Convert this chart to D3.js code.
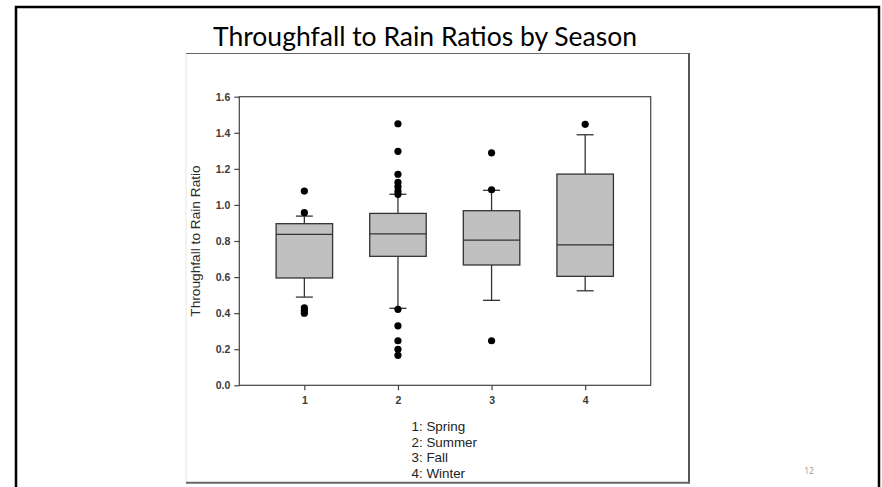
<!DOCTYPE html>
<html><head><meta charset="utf-8">
<script src="https://cdn.jsdelivr.net/npm/d3@7"></script>
<style>html,body{margin:0;padding:0;background:#fff;}svg{display:block;}</style>
</head><body>
<script>
// ---- data ----
const seasons = [1, 2, 3, 4];
const seasonNames = ["Spring", "Summer", "Fall", "Winter"];
const q1 = [0.595, 0.715, 0.667, 0.604];
const medians = [0.837, 0.839, 0.805, 0.778];
const q3 = [0.896, 0.953, 0.968, 1.171];
const whiskerLow = [0.489, 0.427, 0.471, 0.524];
const whiskerHigh = [0.938, 1.059, 1.081, 1.389];
const outliers = [
  [1.077, 0.957, 0.43, 0.415, 0.40],
  [1.450, 1.297, 1.170, 1.125, 1.101, 1.077, 1.059, 0.421, 0.330, 0.247, 0.200, 0.166],
  [1.289, 1.084, 0.247],
  [1.447]
];
const yTicks = [0, 0.2, 0.4, 0.6, 0.8, 1.0, 1.2, 1.4, 1.6];
const title = "Throughfall to Rain Ratios by Season";
const yLabel = "Throughfall to Rain Ratio";
const pageNumber = "12";

// ---- drawing ----
const W = 882, H = 487;
const svg = d3.select("body").append("svg").attr("width", W).attr("height", H);

// slide frame
svg.append("path")
  .attr("d", "M16,487 V7 H879 V487")
  .attr("fill", "none").attr("stroke", "#000").attr("stroke-width", 2.5);

// title
svg.append("text").attr("x", 425).attr("y", 46)
  .attr("text-anchor", "middle")
  .style("font-family", "Lato, 'Open Sans', sans-serif").style("font-size", "26.5px").style("fill", "#000")
  .text(title);

// embedded image frame
svg.append("line").attr("x1", 186).attr("x2", 186).attr("y1", 53).attr("y2", 483).attr("stroke", "#e6e6e6").attr("stroke-width", 1);
svg.append("line").attr("x1", 186).attr("x2", 690).attr("y1", 53.5).attr("y2", 53.5).attr("stroke", "#666").attr("stroke-width", 1.2);
svg.append("line").attr("x1", 689).attr("x2", 689).attr("y1", 53).attr("y2", 483.5).attr("stroke", "#555").attr("stroke-width", 2);
svg.append("line").attr("x1", 186).attr("x2", 690).attr("y1", 482.7).attr("y2", 482.7).attr("stroke", "#666").attr("stroke-width", 2);

// page number
svg.append("text").attr("x", 809).attr("y", 474).attr("text-anchor", "middle")
  .style("font-family", "'Open Sans', sans-serif").style("font-size", "8.5px").style("fill", "#999")
  .text(pageNumber);

const x = d3.scaleLinear().domain([0.305, 4.70]).range([239.3, 650.7]);
const y = d3.scaleLinear().domain([0, 1.6]).range([385.3, 96.7]);
const boxW = 56.5, capW = 17;

const g = svg.append("g");
const axisFont = "'Liberation Sans', Arial, sans-serif";

// plot frame
g.append("rect").attr("x", x.range()[0]).attr("y", y(1.6))
  .attr("width", x.range()[1] - x.range()[0]).attr("height", y(0) - y(1.6))
  .attr("fill", "none").attr("stroke", "#444").attr("stroke-width", 1.2);

// axes
const yAx = g.append("g").attr("transform", `translate(${x.range()[0]},0)`)
  .call(d3.axisLeft(y).tickValues(yTicks).tickFormat(d3.format(".1f")).tickSize(5).tickSizeOuter(0).tickPadding(4));
const xAx = g.append("g").attr("transform", `translate(0,${y(0)})`)
  .call(d3.axisBottom(x).tickValues(seasons).tickFormat(d3.format("d")).tickSize(5).tickSizeOuter(0).tickPadding(6));
[yAx, xAx].forEach(a => {
  a.select(".domain").remove();
  a.selectAll("line").attr("stroke", "#444").attr("stroke-width", 1.2);
  a.selectAll("text").style("font-family", axisFont).style("font-size", "10.5px").style("font-weight", "bold").style("fill", "#3a3a3a");
});

// y label
g.append("text").attr("transform", `translate(200,${y(0.8)}) rotate(-90)`)
  .attr("text-anchor", "middle")
  .style("font-family", axisFont).style("font-size", "13.7px").style("fill", "#2e2a28")
  .text(yLabel);

// boxes
const data = seasons.map((s, i) => ({s, q1: q1[i], med: medians[i], q3: q3[i], lo: whiskerLow[i], hi: whiskerHigh[i], out: outliers[i]}));
const bx = g.selectAll(".box").data(data).join("g").attr("class", "box");
const stroke = "#333", sw = 1.3;
// whiskers
bx.append("line").attr("x1", d => x(d.s)).attr("x2", d => x(d.s)).attr("y1", d => y(d.q3)).attr("y2", d => y(d.hi)).attr("stroke", stroke).attr("stroke-width", sw);
bx.append("line").attr("x1", d => x(d.s)).attr("x2", d => x(d.s)).attr("y1", d => y(d.q1)).attr("y2", d => y(d.lo)).attr("stroke", stroke).attr("stroke-width", sw);
bx.append("line").attr("x1", d => x(d.s) - capW / 2).attr("x2", d => x(d.s) + capW / 2).attr("y1", d => y(d.hi)).attr("y2", d => y(d.hi)).attr("stroke", stroke).attr("stroke-width", sw);
bx.append("line").attr("x1", d => x(d.s) - capW / 2).attr("x2", d => x(d.s) + capW / 2).attr("y1", d => y(d.lo)).attr("y2", d => y(d.lo)).attr("stroke", stroke).attr("stroke-width", sw);
// box
bx.append("rect").attr("x", d => x(d.s) - boxW / 2).attr("width", boxW)
  .attr("y", d => y(d.q3)).attr("height", d => y(d.q1) - y(d.q3))
  .attr("fill", "#c0c0c0").attr("stroke", stroke).attr("stroke-width", sw);
bx.append("line").attr("x1", d => x(d.s) - boxW / 2).attr("x2", d => x(d.s) + boxW / 2).attr("y1", d => y(d.med)).attr("y2", d => y(d.med)).attr("stroke", stroke).attr("stroke-width", sw);
// outliers
bx.selectAll("circle").data(d => d.out.map(v => ({s: d.s, v}))).join("circle")
  .attr("cx", d => x(d.s)).attr("cy", d => y(d.v)).attr("r", 3.6).attr("fill", "#000");

// legend
const leg = g.append("g");
seasons.forEach((s, i) => {
  leg.append("text").attr("x", 411.5).attr("y", 426.7 + i * 15.45).attr("dy", "0.35em")
    .style("font-family", axisFont).style("font-size", "13.4px").style("fill", "#222")
    .text(`${s}: ${seasonNames[i]}`);
});
</script>
</body></html>
